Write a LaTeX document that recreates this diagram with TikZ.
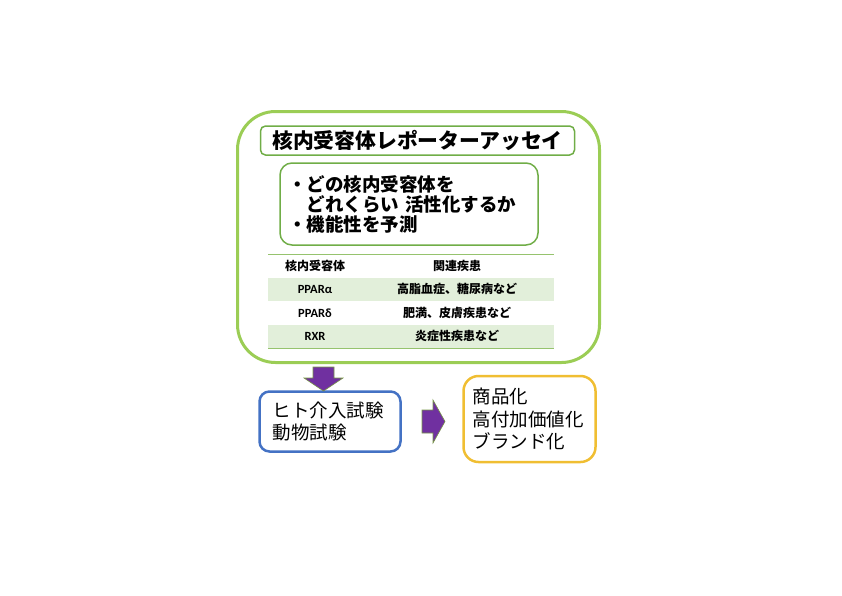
\documentclass[tikz,border=0pt]{standalone}
\usepackage{fontspec}
\newfontfamily\jpfont{Noto Sans CJK JP}
\newfontfamily\latfont{Carlito}
\definecolor{frameGreen}{RGB}{155,205,85}
\definecolor{boxGreen}{RGB}{112,173,71}
\definecolor{rowShade}{RGB}{226,239,218}
\definecolor{ruleGreen}{RGB}{150,195,110}
\definecolor{arrowPurple}{RGB}{112,48,160}
\definecolor{arrowEdge}{RGB}{120,150,70}
\definecolor{trialBlue}{RGB}{68,114,196}
\definecolor{goalGold}{RGB}{240,190,50}
\begin{document}
\begin{tikzpicture}[x=1pt,y=-1pt,
        cell/.style={inner sep=0pt, font=\jpfont\bfseries\fontsize{12}{14}\selectfont},
        blockarrow/.style={fill=arrowPurple, draw=arrowEdge, line width=0.6pt}]
        \useasboundingbox (0,0) rectangle (842,595);
        \node[draw=frameGreen, line width=3pt, rounded corners=38pt, minimum width=362pt, minimum height=251pt] (frame) at (418.5,237) {};
        \node[draw=boxGreen, line width=1.5pt, rounded corners=5pt, minimum width=314pt, minimum height=29pt, inner sep=0pt,
              font=\jpfont\bfseries\fontsize{20.8}{24}\selectfont] (title) at (417.5,140.5) {核内受容体レポーターアッセイ};
        \node[draw=boxGreen, line width=1.5pt, rounded corners=12pt, minimum width=258pt, minimum height=82pt, text width=242pt,
              inner xsep=8pt, align=left, font=\jpfont\bfseries\fontsize{18.5}{20}\selectfont] (aims) at (409,204)
              {・どの核内受容体を\\\hspace*{1em}どれくらい 活性化するか\\・機能性を予測};
        \fill[rowShade] (268,277.5) rectangle (554,301);
        \fill[rowShade] (268,324.5) rectangle (554,348);
        \foreach \y in {254,348} \draw[ruleGreen, line width=1pt] (268,\y) -- (554,\y);
        \node[cell] (headA) at (315,265.5) {核内受容体};
        \node[cell] (headB) at (457,265.5) {関連疾患};
        \foreach \y/\a/\b [count=\i] in {289.25/PPARα/高脂血症、糖尿病など, 312.75/PPARδ/肥満、皮膚疾患など, 336.25/RXR/炎症性疾患など}{
            \node[cell, font=\latfont\bfseries\fontsize{12.5}{14}\selectfont] (recep\i) at (315,\y) {\a};
            \node[cell] (disease\i) at (457,\y) {\b};
        }
        \node[draw=trialBlue, line width=2.5pt, rounded corners=10pt, minimum width=141pt, minimum height=60pt, text width=115pt,
              inner xsep=13pt, align=left, font=\jpfont\fontsize{18.5}{22}\selectfont] (trials) at (330,421.5) {ヒト介入試験\\動物試験};
        \node[draw=goalGold, line width=2.5pt, rounded corners=15pt, minimum width=132pt, minimum height=86pt, text width=114pt,
              inner xsep=9pt, align=left, font=\jpfont\fontsize{18.5}{22.5}\selectfont] (goals) at (529.5,419) {商品化\\高付加価値化\\ブランド化};
        \filldraw[blockarrow] (313,367) -- (334,367) -- (334,378) -- (343,378) -- (323.5,391) -- (304,378) -- (313,378) -- cycle;
        \filldraw[blockarrow] (422,410) -- (433,410) -- (433,400) -- (445,421.5) -- (433,443) -- (433,433) -- (422,433) -- cycle;
\end{tikzpicture}
\end{document}
